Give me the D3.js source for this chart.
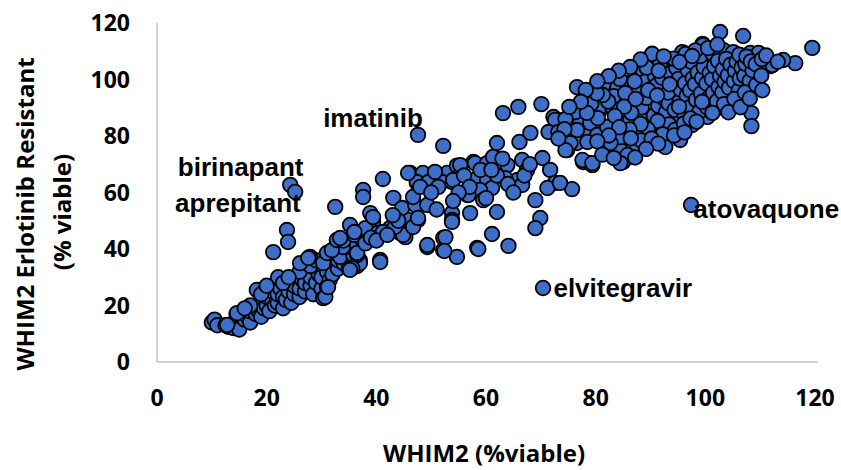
<!DOCTYPE html>
<html>
<head>
<meta charset="utf-8">
<script src="https://cdn.jsdelivr.net/npm/d3@7"></script>
<style>
  body { margin: 0; background: #fff; }
  svg { display: block; }
  .tick-label { font-family: "Open Sans", sans-serif; font-weight: 700; font-size: 23px; fill: #000; }
  .axis-title { font-family: "Open Sans", sans-serif; font-weight: 700; font-size: 24px; fill: #000; }
  .drug-label { font-family: "Liberation Sans", Arial, sans-serif; font-weight: 700; font-size: 26px; fill: #000; }
</style>
</head>
<body>
<svg id="chart"></svg>
<script>
// ******************* Data ******************************************** //
var xTicks = [0, 20, 40, 60, 80, 100, 120];
var yTicks = [0, 20, 40, 60, 80, 100, 120];

// [WHIM2 %viable, WHIM2 Erlotinib Resistant %viable]
var lowBand = [
  [10,14],[10.5,15],[11,13],[12.5,13],[13,12.5],[14,12],[15,12],[15,11.5],[14.5,17],[16,15],
  [16.5,16],[17,14],[17,18],[18,17],[18,20],[18.5,18],[19,16],[19,21],[19.5,19],[20,20],
  [20,23],[20.5,18],[21,22],[21,25],[21.5,20],[22,21],[22,24],[22.5,26],[23,19],[23,23],
  [23.5,22],[24,25],[24,28],[24.5,21],[25,24],[25,27],[25.5,30],[26,23],[26,26],[26.5,29],
  [27,25],[27,28],[27.5,32],[28,27],[28,30],[28.5,24],[29,28],[29,33],[29.5,31],[30,26],
  [30,30],[30.5,35],[30.3,22.6],[31,26.5],[31,32],[31.5,29],[32,34],[32,31],[32.5,37],[33,33],
  [33,36],[33.5,39],[34,35],[34,38],[35,36],[35,33],[35.5,40],[36,38],[36.5,34],[37,36],
  [37.5,42],[38,44],[18.2,25.5],[22.1,30],[27.4,36],[14.6,17.3],[12.8,13.1],[17,20],[19,24],[23,28],
  [26,32],[20,27],[16,19],[24,30],[28,34],[29,36],[31,38],[26.1,35],[27.9,37.2],[30.3,35],
  [31,38.6],[33.4,37.2],[35.8,37.9],[35.2,40.7],[33.9,40.7],[31.9,39.6],[32.8,43.2],[37,35],[34,43],[36,45],
  [36.5,37.9],[35.6,33.3],[30.7,23],[31.2,26.5],[27.6,36.8],[33.4,43.9],[35.2,48.5],[36.5,38.6],[35.2,32.6],[21.2,38.9]
];

var midBand = [
  [41.2,64.8],[37.6,60.9],[37.6,58.4],[32.5,54.9],[38.9,52.7],[39.4,49.6],[38,47.4],[40.3,45.7],[42.5,47.4],[44.3,45.7],
  [45.3,44.2],[45.8,50.3],[47.6,50.3],[43.1,58.1],[44.7,54.5],[47.1,55.6],[49.3,55.6],[46.2,66.9],[48.5,66.9],[50.7,66.9],
  [52.9,66.9],[54.7,69.5],[57.7,70.8],[47.4,63.4],[51.1,62.7],[53.8,63.7],[56.6,59.1],[53.8,52.7],[53.8,50.3],[57.1,52.7],
  [52.2,43.9],[52.2,39.6],[49.3,40.7],[54.7,37.2],[40.7,36.1],[58.4,40.4],[39.4,51.3],[41.2,46],[44.9,45],[43.4,47.8],
  [46.7,47.8],[47.4,63.7],[49.5,63.7],[52,63.7],[51.3,62],[57.1,63.4],[58.4,65.1],[60.2,64.4],[52.2,76.5],[62,77.5],
  [66.1,77.9],[68.1,81.1],[63.1,88.1],[65.9,90.3],[70.1,91.3],[45.8,66.9],[50.7,67.3],[54,64.4],[55.3,69.7],[58,70.4],
  [60.2,70.4],[61.3,72.6],[63.9,69.7],[66.6,71.5],[67.5,68],[70.3,72.2],[71.7,68],[72.6,63.4],[71.2,61.6],[75.7,61.2],
  [69,57.3],[69.9,51],[69,47.4],[65.7,64.4],[66.6,62.7],[63.5,65.1],[61.1,61.6],[58.9,60.9],[56.8,59.1],[59.5,57.3],
  [62,53.1],[53.8,49.6],[52.6,44.2],[61.1,45.3],[49.3,41.4],[52.4,39.3],[58.6,40],[64.1,41.1],[40.7,35.4],[46.7,58.4],
  [47.6,51],[38,42],[39,44],[40,43],[42,45],[36,46],[44,50],[43,52],[48,62],[50,60],
  [56,66],[59,68],[62,66],[64,63],[67,66],[68,70],[60,58],[65,60],[63,72],[61,68],
  [57,62],[55,60],[54,57],[51,54],[73.5,63.4],[79.4,69.7]
];

var upperCluster = [
  [72.3,86.7],[72.1,81.4],[74.1,85.7],[75.4,79.6],[77.7,70.8],[79,70.4],[74.8,75],[76.6,77.5],[78.5,81.1],[80.8,89.2],
  [81.4,83.2],[77.2,84.6],[76.6,97.3],[81.4,97.3],[78.6,93.8],[80.8,90.3],[76.3,88.5],[72.6,85.7],[74.5,86],[71.4,81.4],
  [73.2,81.4],[76.6,82.1],[79,84.6],[80.3,80.4],[78.5,77.9],[75.4,77.5],[74.5,75],[77.6,71.5],[79.4,70.4],[83.9,97.3],
  [85.9,98.8],[83,90.3],[84.5,86.7],[82.1,83.2],[83.9,79.6],[85.8,82.1],[86.3,77.5],[84.5,75],[85,70.8],[86.9,72.6],
  [82.1,76.1],[102.7,116.8],[106.9,115.4],[119.5,111.2],[99.5,112.6],[95.8,109.7],[91.4,106.2],[88.7,102.3],[116.4,105.8],[114.2,106.9],
  [111.9,104.8],[110,108.7],[108.2,109.4],[106.4,106.9],[103.3,110.4],[108.4,88.1],[108.4,83.5],[106.4,93.5],[104.6,93.5],[102.2,89.9],
  [100.4,86.7],[97.6,83.9],[95.4,79.3],[92.7,76.1],[87.6,76.1],[85.8,73.3],[84.5,70.4],[112.2,105.1],[109.7,109.4],[105.1,109.7],
  [99.6,112.2],[107.8,97.3],[109.7,100.9],[109.7,104.1],[104.6,91.7],[105.1,95.6],[91.8,105.8],[88.7,102.7],[81.4,98.1],[94.9,100.9],
  [97.3,103.4],[100.9,106.9],[98.5,95.2],[100.9,96.3],[97.8,90.3],[94.2,85.7],[90.5,83.2],[88.7,88.1],[86.3,85.7],[84.5,79.6],
  [82.7,77.5],[90,93.8],[93.1,96.3],[95.4,78.6],
  [86.3,92.4],[87.2,95.6],[88.4,90.1],[87.7,97.2],[89.3,93.5],[89.1,99.4],[90.6,87.2],[90.2,96.8],[90.8,101.3],[91.4,90.7],
  [91.2,98.1],[92.5,93.2],[92.1,100.6],[92.8,88.4],[93.3,91.5],[93.6,102.2],[93.2,95.4],[94.4,89.3],[94.1,98.5],[94.7,104.1],
  [95.3,92.2],[95.5,96.4],[95.1,100.2],[96.2,87.5],[96.6,94.3],[96.3,98.7],[96.8,103.3],[97.4,90.4],[97.2,96.1],[97.7,100.4],
  [97.5,106.2],[98.3,92.8],[98.1,98.3],[98.6,102.5],[98.9,88.6],[99.2,95.1],[99.4,100.5],[99.7,104.4],[99.1,108.3],[100.3,90.2],
  [100.6,93.4],[100.2,98.6],[100.8,102.3],[101.4,95.3],[101.2,100.1],[101.6,104.7],[101.3,109.2],[102.1,92.3],[102.4,97.4],[102.7,101.2],
  [102.3,106.6],[103.1,95.5],[103.5,99.2],[103.2,103.6],[103.8,107.3],[104.3,97.1],[104.1,101.5],[104.6,105.2],[105.2,99.4],[105.4,103.1],
  [105.7,106.3],[106.1,96.2],[106.3,100.4],[106.6,104.2],[106.2,108.8],[107.1,101.3],[107.3,105.6],[107.5,108.1],[108.1,99.5],[108.6,103.2],
  [108.3,106.4],[109.2,105.4],[110.3,107.2],[111.1,108.5],[113.2,106.3],[93.4,84.1],[91.3,85.3],[89.5,82.4],[87.4,80.2],[92.2,80.6],
  [94.5,82.2],[96.1,84.4],[88.2,84.3],[86.5,88.2],[84.2,91.3],[83.3,94.1],[85.4,95.2],[87.1,99.3],[89.3,104.2],[91.5,103.1],
  [94.2,107.4],[96.4,109.1],[98.2,110.3],[100.5,111.1],[102.2,112.4],[95.3,106.2],[97.6,108.3],[85.2,90.4],[83.5,87.1],[82.3,92.2],
  [80.4,86.3],[81.3,94.5],[79.2,91.4],[78.4,88.2],[80.2,95.1],[84.4,100.2],[90.3,109.1],[92.4,108.2],[87.3,93.1],[89.6,96.2],
  [91.2,94.4],[93.5,98.3],[95.2,90.4],[97.3,86.2],[99.4,92.1],[101.3,88.2],[103.4,91.3],[105.3,93.1],[107.2,95.4],[109.3,98.1],
  [104.2,88.4],[106.4,90.2],[108.1,93.3],[110.2,101.4],[110.4,96.2],[86.2,82.3],[84.3,83.1],[82.4,80.2],[88.3,78.4],[90.2,79.1],
  [91.4,77.3],[89.2,75.4],[86.4,79.2],[80.3,78.1],[81.2,73.4],[83.3,72.2],[87.2,72.4],[94.3,80.2],[96.2,81.3],[98.4,85.1],
  [88.2,107.1],[86.3,104.4],[84.2,103.1],[82.4,101.2],[80.3,99.4],[78.2,96.3],[77.3,92.1],[75.2,90.3],[74.3,82.4],[73.2,79.1]
];

// named drugs: point + label anchor (start of text, baseline)
var namedPoints = [
  {name: "birinapant",   x: 24.3, y: 62.7, lx: 3.8,  ly: 65.8},
  {name: "aprepitant",   x: 25.2, y: 60.2, lx: 3.3,  ly: 53.1},
  {name: "",             x: 23.7, y: 46.7},
  {name: "",             x: 23.9, y: 42.5},
  {name: "imatinib",     x: 47.6, y: 80.4, lx: 30.3, ly: 83.2},
  {name: "elvitegravir", x: 70.4, y: 26.2, lx: 72.3, ly: 23.0},
  {name: "atovaquone",   x: 97.4, y: 55.6, lx: 97.8, ly: 51.0}
];

// ******** Chart Set Up ************
var width = 841;
var height = 470;
var margin = {top: 23, right: 26, bottom: 108, left: 157};

var svg = d3.select("#chart")
  .attr("width", width)
  .attr("height", height);

var xScale = d3.scaleLinear()
  .domain([0, 120])
  .range([margin.left, width - margin.right]);

var yScale = d3.scaleLinear()
  .domain([0, 120])
  .range([height - margin.bottom, margin.top]);

// axis lines (no ticks, grey like the spreadsheet)
svg.append("line")
  .attr("x1", xScale(0)).attr("x2", xScale(0))
  .attr("y1", yScale(0)).attr("y2", yScale(120))
  .attr("stroke", "#c4c4c4").attr("stroke-width", 1.5);

svg.append("line")
  .attr("x1", xScale(0)).attr("x2", xScale(120) + 3)
  .attr("y1", yScale(0)).attr("y2", yScale(0))
  .attr("stroke", "#c4c4c4").attr("stroke-width", 1.5);

// tick labels
svg.selectAll(".x-tick")
  .data(xTicks)
  .enter()
  .append("text")
    .classed("tick-label", true)
    .attr("x", d => xScale(d))
    .attr("y", 406)
    .attr("text-anchor", "middle")
    .text(d => d);

svg.selectAll(".y-tick")
  .data(yTicks)
  .enter()
  .append("text")
    .classed("tick-label", true)
    .attr("x", 130)
    .attr("y", d => yScale(d) + 8)
    .attr("text-anchor", "end")
    .text(d => d);

// axis titles
svg.append("text")
  .classed("axis-title", true)
  .attr("x", 484)
  .attr("y", 462)
  .attr("text-anchor", "middle")
  .text("WHIM2 (%viable)");

svg.append("text")
  .classed("axis-title", true)
  .attr("transform", "translate(34,214) rotate(-90)")
  .attr("text-anchor", "middle")
  .text("WHIM2 Erlotinib Resistant");

svg.append("text")
  .classed("axis-title", true)
  .attr("transform", "translate(71,212) rotate(-90)")
  .attr("text-anchor", "middle")
  .text("(% viable)");

// points
var allPoints = lowBand.concat(midBand, upperCluster, namedPoints.map(d => [d.x, d.y]));

svg.append("g")
  .selectAll("circle")
  .data(allPoints)
  .enter()
  .append("circle")
    .attr("cx", d => xScale(d[0]))
    .attr("cy", d => yScale(d[1]))
    .attr("r", 7.3)
    .attr("fill", "#3e6fc8")
    .attr("stroke", "#000")
    .attr("stroke-width", 1.8);

// drug labels
svg.selectAll(".drug-label")
  .data(namedPoints.filter(d => d.name !== ""))
  .enter()
  .append("text")
    .classed("drug-label", true)
    .attr("x", d => xScale(d.lx))
    .attr("y", d => yScale(d.ly))
    .text(d => d.name);
</script>
</body>
</html>
